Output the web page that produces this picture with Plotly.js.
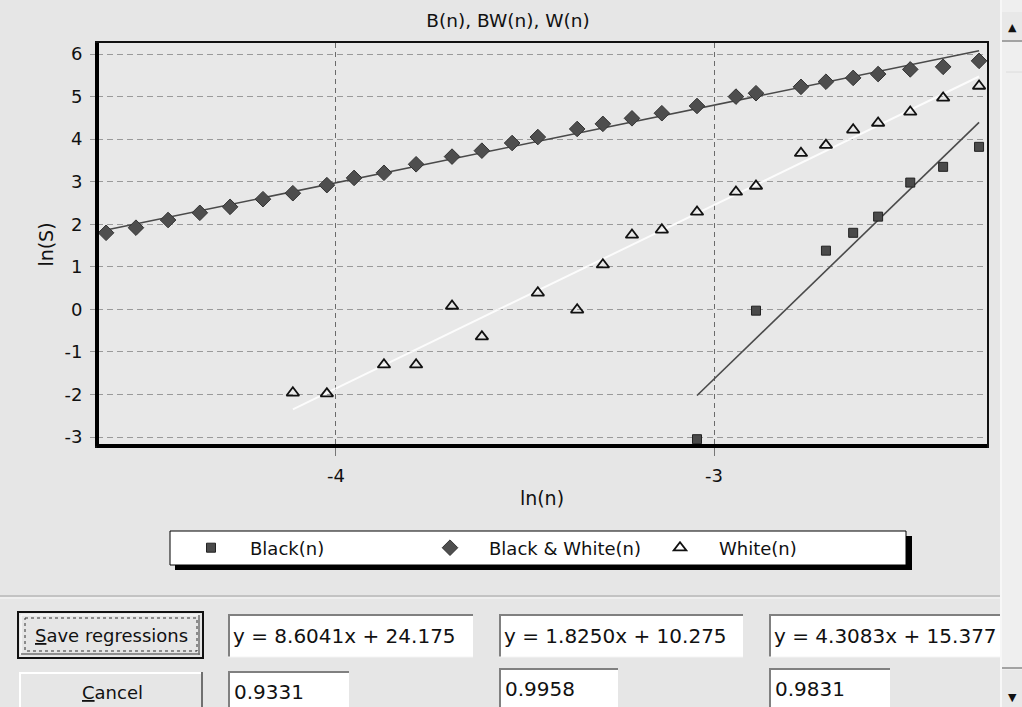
<!DOCTYPE html>
<html>
<head>
<meta charset="utf-8">
<script src="https://cdn.plot.ly/plotly-3.0.1.min.js"></script>
<style>
html,body{margin:0;padding:0;background:#e6e6e6;}
#chart{width:1022px;height:707px;}
</style>
</head>
<body>
<div id="chart"></div>
<script>
// ---------------- data ----------------
const seriesNames = ['Black(n)', 'Black & White(n)', 'White(n)'];

const blackX = [-3.045, -2.889, -2.704, -2.632, -2.566, -2.481, -2.394, -2.299];
const blackY = [-3.05, -0.03, 1.38, 1.80, 2.18, 2.98, 3.35, 3.82];

const bwX = [-4.608, -4.529, -4.444, -4.360, -4.280, -4.193, -4.114, -4.024, -3.952, -3.873,
             -3.788, -3.693, -3.614, -3.534, -3.466, -3.362, -3.294, -3.217, -3.138, -3.045,
             -2.942, -2.889, -2.770, -2.704, -2.632, -2.566, -2.481, -2.394, -2.299];
const bwY = [1.80, 1.92, 2.10, 2.27, 2.41, 2.59, 2.73, 2.92, 3.09, 3.21,
             3.41, 3.59, 3.73, 3.91, 4.05, 4.24, 4.36, 4.49, 4.61, 4.78,
             5.00, 5.08, 5.23, 5.35, 5.44, 5.53, 5.64, 5.70, 5.84];

const whiteX = [-4.114, -4.024, -3.873, -3.788, -3.693, -3.614, -3.466, -3.362, -3.294, -3.217,
                -3.138, -3.045, -2.942, -2.889, -2.770, -2.704, -2.632, -2.566, -2.481, -2.394, -2.299];
const whiteY = [-1.96, -1.98, -1.30, -1.30, 0.08, -0.64, 0.39, -0.01, 1.05, 1.75,
                1.87, 2.29, 2.76, 2.90, 3.67, 3.86, 4.22, 4.38, 4.64, 4.97, 5.25];

// regressions shown in the dialog (Black, Black & White, White)
const slopes = [8.6041, 1.8250, 4.3083];
const intercepts = [24.175, 10.275, 15.377];
const r2Values = ['0.9331', '0.9958', '0.9831'];

const xTickVals = [-4, -3];
const xTickText = ['-4', '-3'];
const yTickVals = [-3, -2, -1, 0, 1, 2, 3, 4, 5, 6];
const yTickText = ['-3', '-2', '-1', '0', '1', '2', '3', '4', '5', '6'];

// ---------------- helpers ----------------
const PL = 97, PR = 987, PT = 43, PB = 446;   // plot area in pixels
const fx = px => (px - PL) / (PR - PL);
const fy = py => (PB - py) / (PB - PT);
const FONT = 'DejaVu Sans, Verdana, sans-serif';

function regLine(k, xs) {
  const x0 = Math.min(...xs), x1 = Math.max(...xs);
  return {x: [x0, x1], y: [slopes[k] * x0 + intercepts[k], slopes[k] * x1 + intercepts[k]]};
}
function eqText(k) {
  return 'y = ' + slopes[k].toFixed(4) + 'x + ' + intercepts[k].toFixed(3);
}

const lb = regLine(0, blackX), lbw = regLine(1, bwX), lw = regLine(2, whiteX);

const traces = [
  {x: lbw.x, y: lbw.y, mode: 'lines', line: {color: '#4a4a4a', width: 1.6}, showlegend: false, hoverinfo: 'skip'},
  {x: lw.x, y: lw.y, mode: 'lines', line: {color: 'rgba(255,255,255,0.85)', width: 2}, showlegend: false, hoverinfo: 'skip'},
  {x: lb.x, y: lb.y, mode: 'lines', line: {color: '#4a4a4a', width: 1.6}, showlegend: false, hoverinfo: 'skip'},
  {x: blackX, y: blackY, mode: 'markers', name: seriesNames[0], legend: 'legend',
   marker: {symbol: 'square', size: 9, color: '#4a4a4a', line: {color: '#222', width: 1}}},
  {x: bwX, y: bwY, mode: 'markers', name: seriesNames[1], legend: 'legend2',
   marker: {symbol: 'diamond', size: 12, color: '#4e4e4e', line: {color: '#333', width: 1}}},
  {x: whiteX, y: whiteY, mode: 'markers', name: seriesNames[2], legend: 'legend3',
   marker: {symbol: 'triangle-up-open', size: 11, color: '#111', line: {width: 1.8}}}
];

// ---------------- dialog decorations ----------------
const shapes = [];
const ann = [];
function rect(x0, y0, x1, y1, fill, lineColor, lw, dash) {
  shapes.push({type: 'rect', xref: 'paper', yref: 'paper', x0: fx(x0), x1: fx(x1), y0: fy(y0), y1: fy(y1),
    fillcolor: fill, line: {color: lineColor || 'rgba(0,0,0,0)', width: lw || 0, dash: dash || 'solid'}, layer: 'above'});
}
function line(x0, y0, x1, y1, color, w) {
  shapes.push({type: 'line', xref: 'paper', yref: 'paper', x0: fx(x0), x1: fx(x1), y0: fy(y0), y1: fy(y1),
    line: {color: color, width: w}, layer: 'above'});
}
function text(str, px, py, size, anchor) {
  ann.push({text: str, xref: 'paper', yref: 'paper', x: fx(px), y: fy(py), showarrow: false,
    xanchor: anchor || 'left', yanchor: 'middle', font: {family: FONT, size: size, color: '#111'}});
}
function sunkenBox(x0, y0, x1, y1) {
  rect(x0, y0, x1, y1, '#ffffff');
  line(x0, y0 + 1, x1, y0 + 1, '#808080', 2);
  line(x0 + 1, y0, x0 + 1, y1, '#808080', 2);
  line(x0, y1, x1, y1, '#f4f4f4', 1);
}

// thick left / bottom frame
line(PL, PT, PL, PB, '#000', 4);
line(PL, PB, PR, PB, '#000', 4);

// legend box with shadow
rect(175, 536, 912, 570, '#000000');
rect(170, 531, 906, 565, '#ffffff', '#000', 1);

// separator
line(0, 596, 1000, 596, '#a0a0a0', 1);
line(0, 598, 1000, 598, '#f8f8f8', 1);

// Save regressions button (default button)
rect(18, 612, 203, 658, '#e6e6e6', '#111', 2);
line(21, 615, 200, 615, '#ffffff', 1);
line(21, 615, 21, 655, '#ffffff', 1);
line(21, 654, 200, 654, '#707070', 1.5);
line(199, 615, 199, 655, '#707070', 1.5);
rect(25, 618, 197, 651, 'rgba(0,0,0,0)', '#333', 1, 'dot');
text('<span style="text-decoration:underline">S</span>ave regressions', 111, 635, 18, 'center');

// Cancel button
rect(19, 672, 203, 712, '#e6e6e6');
line(19, 673, 203, 673, '#ffffff', 2);
line(20, 672, 20, 712, '#ffffff', 2);
line(202, 672, 202, 712, '#707070', 2);
text('<span style="text-decoration:underline">C</span>ancel', 112, 692, 18, 'center');

// equation boxes
const eqBoxes = [[228, 473], [499, 743], [769, 1004]];
eqBoxes.forEach((b, k) => {
  sunkenBox(b[0], 614, b[1], 657);
  text(eqText(k), b[0] + 3, 636, 20, 'left');
});
const r2Boxes = [[228, 349, 671], [499, 618, 668], [769, 890, 668]];
r2Boxes.forEach((b, k) => {
  sunkenBox(b[0], b[2], b[1], b[2] + 42);
  text(r2Values[k], b[0] + 4, b[2] + 21, 20, 'left');
});

// scrollbar
rect(1000, -2, 1024, 710, '#efefef');
line(1001, 0, 1001, 707, '#ffffff', 1);
rect(1002, 12, 1022, 40, '#e8e8e8');
line(1002, 41, 1022, 41, '#8a8a8a', 1.5);
line(1006, 72, 1022, 72, '#dcdcdc', 1);
line(1002, 668, 1022, 668, '#8a8a8a', 1.5);
rect(1002, 670, 1022, 710, '#e8e8e8');
text('▲', 1013, 27, 11, 'center');
text('▼', 1012, 697, 11, 'center');

// ---------------- layout ----------------
const legendBase = {orientation: 'h', bgcolor: 'rgba(0,0,0,0)', borderwidth: 0, itemwidth: 68,
  font: {family: FONT, size: 18, color: '#111'}, xref: 'paper', yref: 'paper',
  xanchor: 'left', yanchor: 'middle', y: fy(548), itemclick: false, itemdoubleclick: false};

const layout = {
  width: 1022, height: 707,
  margin: {l: PL, r: 1022 - PR, t: PT, b: 707 - PB},
  paper_bgcolor: '#e6e6e6',
  plot_bgcolor: '#e8e8e8',
  font: {family: FONT, color: '#111'},
  title: {text: 'B(n), BW(n), W(n)', xref: 'container', yref: 'container', x: 508 / 1022, y: 1 - 21 / 707,
          xanchor: 'center', yanchor: 'middle', font: {family: FONT, size: 18.5, color: '#111'}},
  xaxis: {
    range: [-4.632, -2.278], tickvals: xTickVals, ticktext: xTickText,
    ticks: 'outside', ticklen: 8, tickcolor: '#777', tickwidth: 1,
    showgrid: true, gridcolor: '#6a6a6a', griddash: '5px,4px', gridwidth: 1,
    showline: true, linecolor: '#111', linewidth: 2, mirror: true, zeroline: false,
    tickfont: {family: FONT, size: 18, color: '#111'}, ticklabelstandoff: 4,
    title: {text: 'ln(n)', font: {family: FONT, size: 19, color: '#111'}, standoff: 7}
  },
  yaxis: {
    range: [-3.21, 6.26], tickvals: yTickVals, ticktext: yTickText,
    ticks: 'outside', ticklen: 5, tickcolor: '#999', tickwidth: 1,
    showgrid: true, gridcolor: '#9a9a9a', griddash: '6px,4px', gridwidth: 1,
    showline: true, linecolor: '#111', linewidth: 2, mirror: true, zeroline: false,
    tickfont: {family: FONT, size: 18, color: '#111'}, ticklabelstandoff: 4,
    title: {text: 'ln(S)', font: {family: FONT, size: 19, color: '#111'}, standoff: 6}
  },
  legend: Object.assign({}, legendBase, {x: fx(211 - 39)}),
  legend2: Object.assign({}, legendBase, {x: fx(450 - 39)}),
  legend3: Object.assign({}, legendBase, {x: fx(680 - 39)}),
  shapes: shapes,
  annotations: ann
};

Plotly.newPlot('chart', traces, layout, {displayModeBar: false, staticPlot: true});
</script>
</body>
</html>
